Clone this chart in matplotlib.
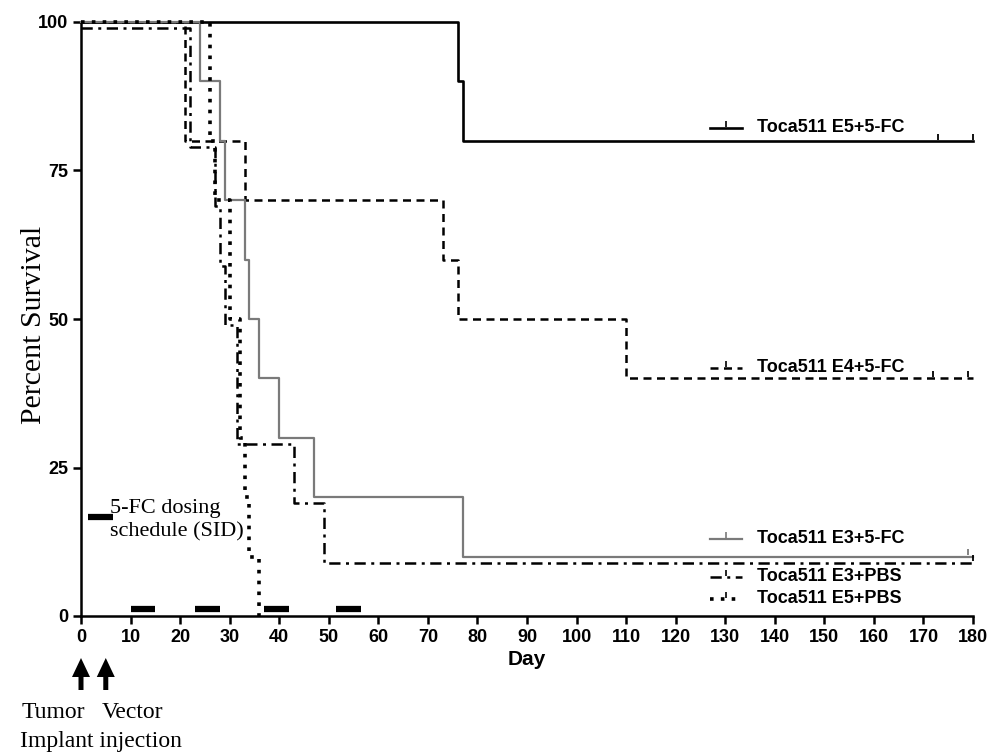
import matplotlib
matplotlib.use("Agg")
import matplotlib.pyplot as plt
from matplotlib.patches import FancyArrow
from matplotlib.transforms import IdentityTransform
import numpy as np

# ---------------- data ----------------
end_day = 180
e5_fc_t = [0, 76, 77]
e5_fc_v = [100, 90, 80]
e5_fc_cens = [173, 180]

e4_fc_t = [0, 21, 33, 73, 76, 110]
e4_fc_v = [100, 80, 70, 60, 50, 40]
e4_fc_cens = [172, 179]

e3_fc_t = [0, 24, 28, 29, 33, 34, 36, 40, 47, 77]
e3_fc_v = [100, 90, 80, 70, 60, 50, 40, 30, 20, 10]
e3_fc_cens = [179]

e3_pbs_t = [0, 22, 27, 28, 29, 31.5, 43, 49]
e3_pbs_v = [99, 79, 69, 59, 49, 29, 19, 9]
e3_pbs_cens = [180]

e5_pbs_t = [0, 26, 27, 30, 32, 33, 34, 36]
e5_pbs_v = [100, 80, 70, 50, 30, 20, 10, 0]

dosing_start = [10, 23, 37, 51.5]
dosing_end = [15, 28, 42, 56.5]

labels = ["Toca511 E5+5-FC", "Toca511 E4+5-FC", "Toca511 E3+5-FC",
          "Toca511 E3+PBS", "Toca511 E5+PBS"]
label_y = [82.2, 41.8, 13.0, 6.6, 2.9]

event_days = [0, 5]

xticks = list(range(0, 181, 10))
yticks = [0, 25, 50, 75, 100]

# ---------------- figure ----------------
W, H = 988, 752
fig = plt.figure(figsize=(W / 100, H / 100), dpi=100)
ax = fig.add_axes([81 / W, 1 - 616 / H, 892 / W, 594 / H])

sans = "Liberation Sans"
serif = "Liberation Serif"
gray = "#7a7a7a"

styles = [
    dict(color="black", lw=1.9, ls="-"),
    dict(color="black", lw=1.8, ls=(0, (3.2, 2.2))),
    dict(color=gray, lw=1.6, ls="-"),
    dict(color="black", lw=1.8, ls=(0, (4.5, 2.2, 1.2, 2.2))),
    dict(color="black", lw=2.6, ls=(0, (1.0, 2.0))),
]

series = [
    (e5_fc_t, e5_fc_v, e5_fc_cens),
    (e4_fc_t, e4_fc_v, e4_fc_cens),
    (e3_fc_t, e3_fc_v, e3_fc_cens),
    (e3_pbs_t, e3_pbs_v, e3_pbs_cens),
    (e5_pbs_t, e5_pbs_v, []),
]

for (t, v, cens), st in zip(series, styles):
    tt = list(t)
    vv = list(v)
    if vv[-1] > 0:
        tt = tt + [end_day]
        vv = vv + [vv[-1]]
    ax.step(tt, vv, where="post", clip_on=False, zorder=3, **st)
    if cens:
        cy = [vv[-1]] * len(cens)
        ax.plot(cens, [c + 0.7 for c in cy], ls="none", marker="|",
                ms=5, mew=1.3, color=st["color"], clip_on=False, zorder=4)

# legend-like labels
lx0, lx1, ltx = 127, 133.4, 136.4
for lab, ly, st in zip(labels, label_y, styles):
    ax.plot([lx0, lx1], [ly, ly], clip_on=False, **st)
    ax.plot([(lx0 + lx1) / 2], [ly + 0.6], ls="none", marker="|", ms=4,
            mew=1.2, color=st["color"], clip_on=False)
    ax.text(ltx, ly, lab, fontfamily=sans, fontweight="bold", fontsize=13,
            va="center", ha="left")

# dosing schedule bars
for s, e in zip(dosing_start, dosing_end):
    ax.plot([s, e], [1.1, 1.1], color="black", lw=4.5, solid_capstyle="butt",
            clip_on=False, zorder=5)
ax.plot([1.4, 6.5], [16.7, 16.7], color="black", lw=4.5,
        solid_capstyle="butt", clip_on=False)
ax.text(5.8, 16.1, "5-FC dosing\nschedule (SID)", fontfamily=serif,
        fontsize=16, va="center", ha="left", linespacing=1.3)

# axes styling
ax.set_xlim(0, 180)
ax.set_ylim(0, 100)
ax.spines["top"].set_visible(False)
ax.spines["right"].set_visible(False)
for s in ["left", "bottom"]:
    ax.spines[s].set_linewidth(1.8)
ax.set_xticks(xticks)
ax.set_yticks(yticks)
ax.tick_params(axis="both", length=6, width=1.8, labelsize=13, pad=3)
for lbl in ax.get_xticklabels() + ax.get_yticklabels():
    lbl.set_fontfamily(sans)
    lbl.set_fontweight("bold")
ax.set_xlabel("Day", fontfamily=sans, fontweight="bold", fontsize=15,
              labelpad=3)
ax.set_ylabel("Percent Survival", fontfamily=serif, fontsize=21.5)
ax.yaxis.set_label_coords(-0.038, 0.49)

# arrows below axis (display pixels, y from bottom)
for d in event_days:
    xpix = ax.transData.transform((d, 0))[0]
    tail_y = H - 690
    tip_y = H - 658
    arr = FancyArrow(xpix, tail_y, 0, tip_y - tail_y, width=5,
                     head_width=18, head_length=19,
                     length_includes_head=True, color="black", lw=0,
                     transform=IdentityTransform())
    fig.add_artist(arr)

fig.text(22 / W, 1 - 713 / H, "Tumor", fontfamily=serif, fontsize=17,
         va="center", ha="left")
fig.text(102 / W, 1 - 713 / H, "Vector", fontfamily=serif, fontsize=17,
         va="center", ha="left")
fig.text(20 / W, 1 - 742 / H, "Implant injection", fontfamily=serif,
         fontsize=17, va="center", ha="left")

fig.savefig("out.png", dpi=100)
